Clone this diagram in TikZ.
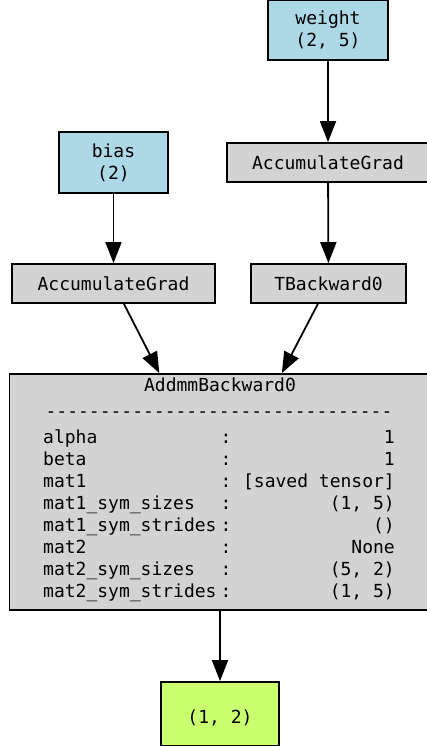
\documentclass[tikz,border=0pt]{standalone}
\usepackage{fontspec}
\setmonofont{DejaVu Sans Mono}
\usepackage{xcolor}
\usetikzlibrary{positioning, arrows.meta}

\definecolor{paramblue}{HTML}{ADD8E6}
\definecolor{gradgrey}{HTML}{D3D3D3}
\definecolor{outgreen}{HTML}{CAFF70}

\begin{document}
\begin{tikzpicture}[
        x=1pt, y=-1pt,
        >={Triangle[length=21pt, width=16pt]},
        every node/.style={font=\ttfamily\fontsize{18}{22}\selectfont, inner sep=0pt},
        box/.style={rectangle, draw, line width=1.8pt, align=center},
        param/.style={box, fill=paramblue},
        grad/.style={box, fill=gradgrey, minimum height=39pt},
        result/.style={box, fill=outgreen},
        key/.style={anchor=base west},
        sep/.style={anchor=base},
        val/.style={anchor=base east},
        edge/.style={->, line width=1.8pt}
    ]
        \useasboundingbox[fill=white] (0, 0) rectangle (427, 746);

        \node[param, minimum width=120pt, minimum height=60pt] (weight) at (328, 30)    {weight\\(2, 5)};
        \node[param, minimum width=109pt, minimum height=61pt] (bias)   at (113.5, 162.5) {bias\\(2)};

        \node[grad, minimum width=202pt] (accw) at (328, 162.5)   {AccumulateGrad};
        \node[grad, minimum width=203pt] (accb) at (113.5, 283.5) {AccumulateGrad};
        \node[grad, minimum width=155pt] (tback) at (328.5, 283.5) {TBackward0};

        \node[box, fill=gradgrey, minimum width=421pt, minimum height=236pt] (addmm) at (220, 492) {};
        \node[result, minimum width=118pt, minimum height=64pt] (out) at (220, 714) {\\(1, 2)};

        % saved attributes of the addmm node
        \node[sep] (title) at (220, 391) {AddmmBackward0};
        \node[sep] (rule)  at (219, 417) {--------------------------------};
        \node[key] (k1) at (43, 443)   {alpha};             \node[sep] (c1) at (226, 443)   {:}; \node[val] (v1) at (395, 443)   {1};
        \node[key] (k2) at (43, 465)   {beta};              \node[sep] (c2) at (226, 465)   {:}; \node[val] (v2) at (395, 465)   {1};
        \node[key] (k3) at (43, 487)   {mat1};              \node[sep] (c3) at (226, 487)   {:}; \node[val] (v3) at (395, 487)   {[saved tensor]};
        \node[key] (k4) at (43, 509)   {mat1\_sym\_sizes};    \node[sep] (c4) at (226, 509)   {:}; \node[val] (v4) at (395, 509)   {(1, 5)};
        \node[key] (k5) at (43, 531)   {mat1\_sym\_strides};  \node[sep] (c5) at (226, 531)   {:}; \node[val] (v5) at (395, 531)   {()};
        \node[key] (k6) at (43, 553)   {mat2};              \node[sep] (c6) at (226, 553)   {:}; \node[val] (v6) at (395, 553)   {None};
        \node[key] (k7) at (43, 575)   {mat2\_sym\_sizes};    \node[sep] (c7) at (226, 575)   {:}; \node[val] (v7) at (395, 575)   {(5, 2)};
        \node[key] (k8) at (43, 597)   {mat2\_sym\_strides};  \node[sep] (c8) at (226, 597)   {:}; \node[val] (v8) at (395, 597)   {(1, 5)};

        \draw[edge] (weight) -- (accw);
        \draw[edge] (bias)   -- (accb);
        \draw[edge] (accw)   -- (tback);
        \draw[edge] (accb)   -- (addmm);
        \draw[edge] (tback)  -- (addmm);
        \draw[edge] (addmm)  -- (out);
    \end{tikzpicture}
\end{document}
